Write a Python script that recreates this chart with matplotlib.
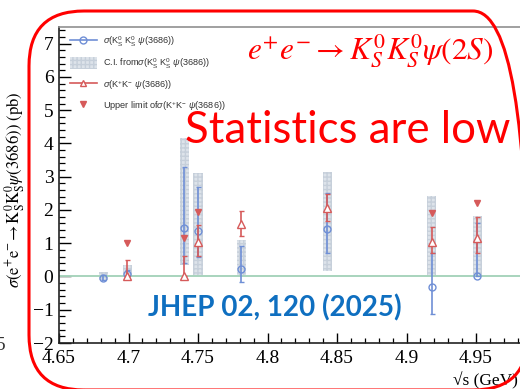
import matplotlib
matplotlib.use("Agg")
import matplotlib.pyplot as plt
from matplotlib.patches import FancyBboxPatch, Patch
from matplotlib.lines import Line2D
from matplotlib.ticker import MultipleLocator, FixedLocator, FixedFormatter

# centre-of-mass energies (GeV)
energy = [4.682, 4.699, 4.740, 4.750, 4.781, 4.843, 4.918, 4.951]
# sigma(KS KS psi(3686)) with asymmetric errors (pb)
ksks_xs = [-0.04, 0.08, 1.45, 1.37, 0.23, 1.43, -0.33, 0.00]
ksks_err_lo = [0.08, 0.08, 1.05, 0.77, 0.40, 0.71, 0.80, 0.00]
ksks_err_hi = [0.08, 0.10, 1.85, 1.33, 0.69, 1.09, 1.05, 1.60]
# confidence interval bands derived from sigma(KS KS psi(3686))
ci_low = [-0.10, 0.00, 0.35, 0.00, 0.00, 0.15, 0.00, 0.00]
ci_high = [0.14, 0.35, 4.15, 3.10, 1.10, 3.15, 2.42, 1.83]

# sigma(K+ K- psi(3686))
kk_energy = [4.699, 4.740, 4.750, 4.781, 4.843, 4.918, 4.951]
kk_xs = [0.00, 0.00, 1.03, 1.57, 2.05, 1.03, 1.15]
kk_err_lo = [0.00, 0.00, 0.41, 0.35, 0.37, 0.33, 0.45]
kk_err_hi = [0.50, 0.62, 0.52, 0.41, 0.43, 0.47, 0.63]

# upper limits on sigma(K+ K- psi(3686))
ul_energy = [4.699, 4.740, 4.750, 4.918, 4.951]
ul_xs = [1.00, 1.15, 1.93, 1.92, 2.22]

x_ticks = [4.65, 4.70, 4.75, 4.80, 4.85, 4.90, 4.95]
x_tick_labels = ["4.65", "4.7", "4.75", "4.8", "4.85", "4.9", "4.95"]
y_ticks = [-2, -1, 0, 1, 2, 3, 4, 5, 6, 7]
y_tick_labels = ["\u22122", "\u22121", "0", "1", "2", "3", "4", "5", "6", "7"]

legend_labels = [
    r"$\sigma(\mathrm{K^0_S\ K^0_S\ }\psi\mathrm{(3686)})$",
    r"C.I. from$\sigma(\mathrm{K^0_S\ K^0_S\ }\psi\mathrm{(3686)})$",
    r"$\sigma(\mathrm{K^{+}K^{-}\ }\psi\mathrm{(3686)})$",
    r"Upper limit of$\sigma(\mathrm{K^{+}K^{-}\ }\psi\mathrm{(3686)})$",
]

plt.rcParams["mathtext.fontset"] = "custom"
plt.rcParams["mathtext.rm"] = "Liberation Sans"
plt.rcParams["mathtext.it"] = "Liberation Sans:italic"
plt.rcParams["mathtext.bf"] = "Liberation Sans:bold"

BLUE = "#6f8fd6"
RED = "#d65a5a"
BAND = "#dde3ea"
BAND_HATCH = "#c6cfda"

W, H = 520, 389
fig = plt.figure(figsize=(W / 100, H / 100), dpi=100)
fig.patch.set_facecolor("white")

ax = fig.add_axes([59 / W, 46 / H, (545.5 - 59) / W, (343 - 27) / H])
ax.set_xlim(4.65, 5.0)
ax.set_ylim(-2, 7.5)

# confidence-interval bands
ci_height = [h - l for l, h in zip(ci_low, ci_high)]
ax.bar(energy, ci_height, bottom=ci_low, width=0.0066, color=BAND,
       hatch="++++", edgecolor=BAND_HATCH, linewidth=0, zorder=1)

# zero line
ax.axhline(0, color="#a8d4bd", lw=1.4, zorder=2)

ax.errorbar(energy, ksks_xs, yerr=[ksks_err_lo, ksks_err_hi], fmt="o",
            mfc="none", mec=BLUE, ms=5, mew=1.0, color=BLUE, ecolor=BLUE,
            elinewidth=1.2, capsize=1.8, capthick=1.0, zorder=3)
ax.errorbar(kk_energy, kk_xs, yerr=[kk_err_lo, kk_err_hi], fmt="^",
            mfc="white", mec=RED, ms=5.5, mew=1.0, color=RED, ecolor=RED,
            elinewidth=1.2, capsize=1.8, capthick=1.0, zorder=4)
ax.plot(ul_energy, ul_xs, "v", color=RED, ms=5, ls="none", zorder=5)

# axes styling
ax.xaxis.set_major_locator(FixedLocator(x_ticks))
ax.xaxis.set_major_formatter(FixedFormatter(x_tick_labels))
ax.xaxis.set_minor_locator(MultipleLocator(0.01))
ax.yaxis.set_major_locator(FixedLocator(y_ticks))
ax.yaxis.set_major_formatter(FixedFormatter(y_tick_labels))
ax.yaxis.set_minor_locator(MultipleLocator(0.2))
for lab in ax.get_xticklabels() + ax.get_yticklabels():
    lab.set_fontfamily("Liberation Serif")
ax.tick_params(axis="x", which="major", direction="in", length=7.2, width=1.0,
               pad=5, labelsize=14)
ax.tick_params(axis="x", which="minor", direction="in", length=3.6, width=0.9)
ax.tick_params(axis="y", which="major", direction="in", length=8.6, width=1.0,
               pad=4, labelsize=14)
ax.tick_params(axis="y", which="minor", direction="in", length=4.3, width=0.9)
for s in ("left", "bottom"):
    ax.spines[s].set_linewidth(1.2)
    ax.spines[s].set_color("#222222")
ax.spines["top"].set_color("#909090")
ax.spines["top"].set_linewidth(1.2)
ax.spines["right"].set_visible(False)
ax.patch.set_alpha(0)

handles = [
    Line2D([], [], color=BLUE, marker="o", mfc="none", mec=BLUE, ms=5, lw=1.2),
    Patch(facecolor=BAND, hatch="++++", edgecolor=BAND_HATCH, linewidth=0),
    Line2D([], [], color=RED, marker="^", mfc="white", mec=RED, ms=5, lw=1.2),
    Line2D([], [], color=RED, marker="v", ls="none", ms=5),
]
leg = ax.legend(handles, legend_labels, loc="upper left",
                bbox_to_anchor=(70 / W, 1 - 35 / H), bbox_transform=fig.transFigure,
                frameon=False, borderpad=0, borderaxespad=0, handlelength=2.9,
                handleheight=1.55, handletextpad=0.75, labelspacing=0.8,
                prop={"family": "Liberation Sans", "size": 6.6})
for t in leg.get_texts():
    t.set_color("#333333")

# axis titles
fig.text(15 / W, 1 - 190 / H,
         r"$\sigma(\mathrm{e^{+}e^{-}\!\rightarrow K^0_S K^0_S}\psi\mathrm{(3686)})\ \mathrm{(pb)}$",
         rotation=90, ha="center", va="center", fontsize=12, math_fontfamily="stix")
fig.text(453 / W, 1 - 381 / H, "\u221as (GeV)", ha="left", va="center",
         fontsize=12.5, family=["Liberation Serif", "DejaVu Serif"])

# slide annotations
fig.text(247 / W, 1 - 51 / H, r"$e^{+}e^{-}\rightarrow K_S^0K_S^0\psi(2S)$",
         color="red", fontsize=22.5, math_fontfamily="stix", ha="left", va="center")
fig.text(185 / W, 1 - 143 / H, "Statistics are low", color="red", fontsize=31.5,
         family="Lato", ha="left", va="baseline")
fig.text(148 / W, 1 - 316 / H, "JHEP 02, 120 (2025)", color="#0f6fc0",
         fontsize=20, fontweight="bold", family="Lato", ha="left", va="baseline")
fig.text(-4 / W, 1 - 345 / H, "5", fontsize=14, family="Liberation Serif",
         ha="left", va="center", color="#333333")

# rounded frame around the plot (pixel geometry expressed in figure fractions)
fx0, fx1, fy_top, fy_bot, radius = 29, 528, 11, 390, 55
frame = FancyBboxPatch((fx0 / W, 1 - fy_bot / H), (fx1 - fx0) / W, (fy_bot - fy_top) / H,
                       boxstyle=f"round,pad=0,rounding_size={radius / W}",
                       mutation_aspect=W / H,
                       transform=fig.transFigure, fill=False,
                       edgecolor="red", linewidth=2.2, zorder=10)
fig.add_artist(frame)

fig.savefig("out.png", dpi=100)
